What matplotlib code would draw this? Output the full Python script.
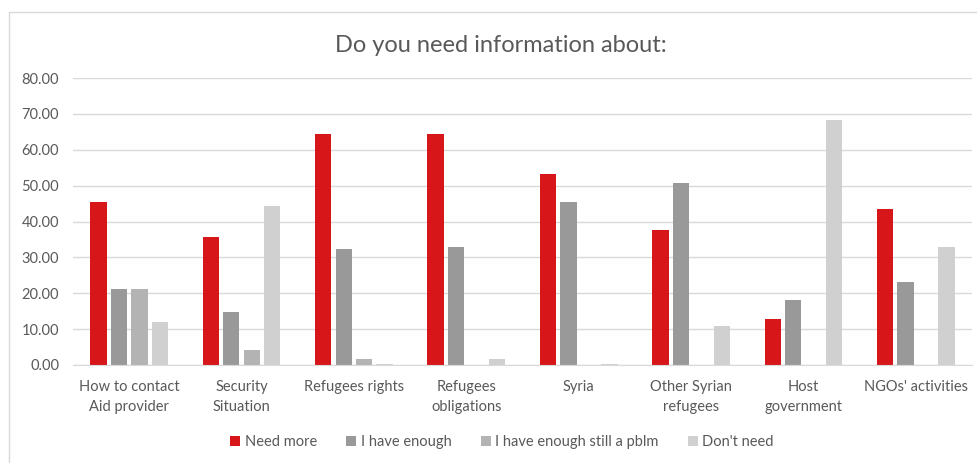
import matplotlib
matplotlib.use("Agg")
import matplotlib.pyplot as plt
import numpy as np
from matplotlib.patches import Rectangle

plt.rcParams['font.family'] = ['Lato', 'DejaVu Sans']

categories = ["How to contact\nAid provider", "Security\nSituation", "Refugees rights",
              "Refugees\nobligations", "Syria", "Other Syrian\nrefugees",
              "Host\ngovernment", "NGOs' activities"]
need_more = [45.3, 35.6, 64.4, 64.4, 53.3, 37.6, 12.7, 43.4]
have_enough = [21.1, 14.7, 32.3, 33.0, 45.3, 50.6, 18.1, 23.1]
enough_pblm = [21.1, 4.3, 1.6, 0.0, 0.0, 0.0, 0.0, 0.0]
dont_need = [11.9, 44.2, 0.4, 1.6, 0.4, 10.8, 68.3, 33.0]
series_names = ["Need more", "I have enough", "I have enough still a pblm", "Don't need"]
yticks = [0, 10, 20, 30, 40, 50, 60, 70, 80]

colors = ["#d7161a", "#999999", "#b3b3b3", "#d0d0d0"]
text_color = "#595959"

fig = plt.figure(figsize=(9.78, 4.63), dpi=100)
fig.patch.set_facecolor("white")
fig.patches.append(Rectangle((9 / 978, -0.1), 1.2, 1 - 12 / 463 + 0.1,
                             transform=fig.transFigure, fill=False,
                             edgecolor="#d9d9d9", linewidth=1.0))

ax = fig.add_axes([73 / 978, 1 - 365 / 463, (972 - 73) / 978, (365 - 78) / 463])
x = np.arange(len(categories))
width = 0.145
pitch = 0.182
for i, (vals, name) in enumerate(zip([need_more, have_enough, enough_pblm, dont_need], series_names)):
    ax.bar(x + (i - 1.5) * pitch, vals, width, color=colors[i], label=name, zorder=3)

ax.set_xlim(-0.5, len(categories) - 0.5)
ax.set_ylim(0, 80)
ax.set_yticks(yticks)
ax.set_yticklabels([f"{v:.2f}" for v in yticks], fontsize=10.5, color=text_color)
ax.yaxis.grid(True, color="#d9d9d9", linewidth=1.0, zorder=0)
ax.set_xticks(x)
ax.set_xticklabels(categories, fontsize=10.5, color=text_color, linespacing=1.5)
ax.tick_params(axis="both", length=0)
ax.tick_params(axis="y", pad=10)
ax.tick_params(axis="x", pad=11)
for side in ["top", "right", "left"]:
    ax.spines[side].set_visible(False)
ax.spines["bottom"].set_color("#d9d9d9")
ax.spines["bottom"].set_zorder(4)

fig.text(501 / 978, 1 - 45 / 463, "Do you need information about:", ha="center", va="center",
         fontsize=17, color=text_color)

leg = fig.legend(loc="center", bbox_to_anchor=(502 / 978, 1 - 442 / 463), ncol=4, frameon=False,
                 fontsize=10.5, handlelength=0.7, handleheight=0.7, handletextpad=0.3,
                 columnspacing=2.0)
for t in leg.get_texts():
    t.set_color(text_color)

fig.savefig("out.png", dpi=100, facecolor="white")
